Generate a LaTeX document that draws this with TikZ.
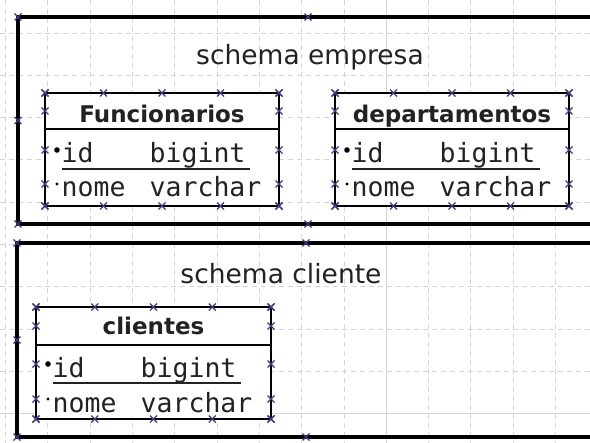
\documentclass[tikz,border=0pt]{standalone}
\usepackage{fontspec}
\setmainfont{DejaVu Sans}
\newfontfamily\monofont{DejaVu Sans Mono}
\definecolor{gridgray}{HTML}{D4D4D4}
\definecolor{cpblue}{HTML}{3C3C8A}
\definecolor{inkgray}{HTML}{222222}

\tikzset{
  gridline/.style={draw=gridgray, line width=0.8bp, dash pattern=on 5bp off 4bp},
  gridmajor/.style={draw=gridgray, line width=0.8bp},
  schemabox/.style={draw=black, line width=3.2bp},
  tablebox/.style={draw=black, fill=white, line width=2.8bp, inner sep=0pt, outer sep=0pt},
  tableline/.style={draw=black, line width=2.6bp},
  keyline/.style={draw=inkgray, line width=1.4bp},
  schematitle/.style={inner sep=0pt, anchor=base, text=inkgray,
    font=\fontsize{26.5bp}{30bp}\selectfont},
  headtext/.style={inner sep=0pt, anchor=base, text=inkgray,
    font=\bfseries\fontsize{23bp}{26bp}\selectfont},
  rowtext/.style={inner sep=0pt, anchor=base west, text=inkgray,
    font=\monofont\fontsize{26.5bp}{30bp}\selectfont},
  cp/.pic={\draw[cpblue, line width=1.1bp] (-3.5,-3.5) -- (3.5,3.5) (-3.5,3.5) -- (3.5,-3.5);}
}

% database table: #1 name, #2 width, #3 height, #4 header height,
% #5 header baseline, #6 id baseline, #7 nome baseline, #8 title
\newcommand\dbtable[8]{%
  \node[tablebox, minimum width=#2bp, minimum height=#3bp, anchor=north west] (#1) at (0,0) {};
  \draw[tableline] (0,#4) -- (#2,#4);
  \node[headtext] (#1-title) at (#2/2,#5) {#8};
  \fill[black] (12,#6-13) circle (2.8);
  \fill[black] (12,#7-13) circle (1.6);
  \node[rowtext] (#1-idname) at (16.5,#6) {id};
  \node[rowtext] (#1-idtype) at (104.5,#6) {bigint};
  \draw[keyline] (17,#6+6) -- (205,#6+6);
  \node[rowtext] (#1-nmname) at (16.5,#7) {nome};
  \node[rowtext] (#1-nmtype) at (104.5,#7) {varchar};
  \foreach \k in {0,1,2,3,4} {
    \pic at (\k*#2/4,0) {cp};
    \pic at (\k*#2/4,#3) {cp};
  }
  \foreach \yy in {0,#4/2,#6-13,#7-13,#3} {
    \pic at (0,\yy) {cp};
    \pic at (#2,\yy) {cp};
  }
}

\begin{document}
\begin{tikzpicture}[x=1bp,y=-1bp]
\useasboundingbox (0,0) rectangle (590,443);
\clip (0,0) rectangle (590,443);
\fill[white] (0,0) rectangle (590,443);

% canvas grid
\foreach \k in {0,...,13} {
  \pgfmathsetmacro\gx{5.5+42.3*\k}
  \ifnum\k=9
    \draw[gridmajor] (\gx,0) -- (\gx,443);
  \else
    \draw[gridline] (\gx,0) -- (\gx,443);
  \fi
}
\foreach \k in {0,...,9} {
  \pgfmathsetmacro\gy{33+42.3*\k}
  \ifnum\k=9
    \draw[gridmajor] (0,\gy) -- (590,\gy);
  \else
    \draw[gridline] (0,\gy) -- (590,\gy);
  \fi
}

% schema containers
\draw[schemabox] (18,17) rectangle (600,224);
\node[schematitle] (empresa) at (310,65) {schema empresa};
\foreach \p in {(18,17),(308,17),(18,120.5),(18,224),(308,224)} \pic at \p {cp};

\draw[schemabox] (17,243) rectangle (600,437);
\node[schematitle] (cliente) at (281,284) {schema cliente};
\foreach \p in {(17,243),(306,243),(17,340),(17,437),(306,437)} \pic at \p {cp};

% tables
\begin{scope}[shift={(45,93)}]
  \dbtable{funcionarios}{234}{113}{36}{30}{70}{104}{Funcionarios}
\end{scope}
\begin{scope}[shift={(335,93)}]
  \dbtable{departamentos}{234}{113}{36}{30}{70}{104}{departamentos}
\end{scope}
\begin{scope}[shift={(36,307)}]
  \dbtable{clientes}{235}{112}{38}{27}{70}{105}{clientes}
\end{scope}
\end{tikzpicture}
\end{document}
